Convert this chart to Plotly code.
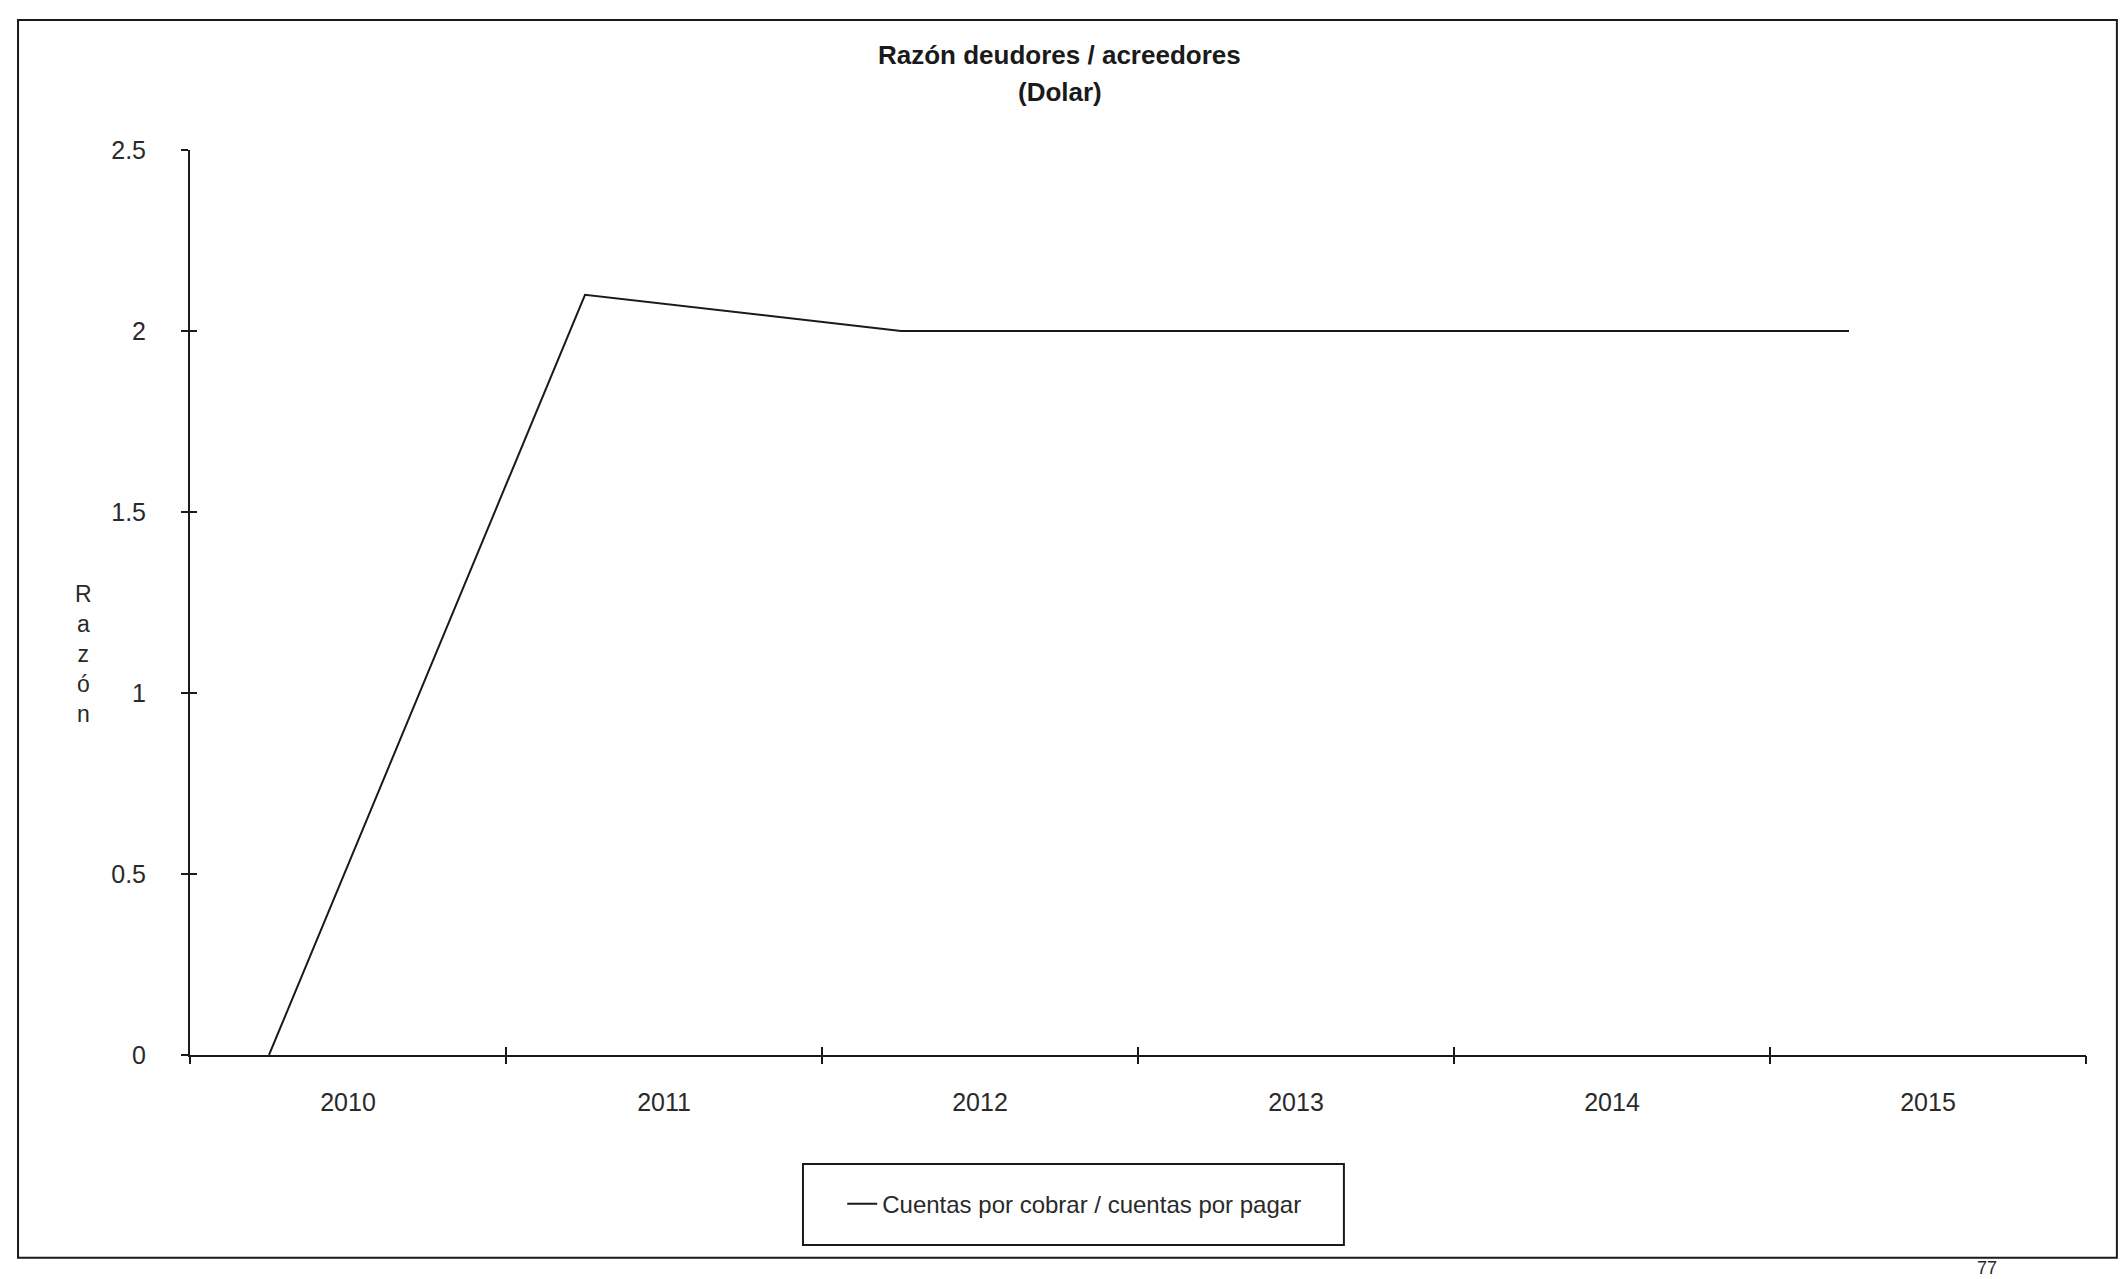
import plotly.graph_objects as go

# Ratio of receivables to payables (USD), by year
years = ["2010", "2011", "2012", "2013", "2014", "2015"]
ratio = [0.0, 2.1, 2.0, 2.0, 2.0, 2.0]
y_ticks = [0, 0.5, 1, 1.5, 2, 2.5]
y_tick_labels = ["0", "0.5", "1", "1.5", "2", "2.5"]
series_name = "Cuentas por cobrar / cuentas por pagar"

n = len(years)
centers = list(range(n))
bounds = [i - 0.5 for i in range(n + 1)]
# points sit a quarter of a category left of each category centre
x_pts = [c - 0.25 for c in centers]

FONT = "Liberation Sans, Arial, Helvetica, sans-serif"
INK = "#1a1a1a"
SOFT = "#2a2a2a"

fig = go.Figure()
fig.add_trace(go.Scatter(
    x=x_pts, y=ratio, mode="lines", name=series_name,
    line=dict(color=INK, width=2), showlegend=True,
))
# invisible helper traces so the overlaid tick axes are rendered
fig.add_trace(go.Scatter(x=[bounds[0]], y=[0], xaxis="x2", yaxis="y2",
                         mode="markers", marker=dict(opacity=0),
                         showlegend=False, hoverinfo="skip"))
fig.add_trace(go.Scatter(x=[bounds[0]], y=[0], xaxis="x3", yaxis="y2",
                         mode="markers", marker=dict(opacity=0),
                         showlegend=False, hoverinfo="skip"))

xr = [bounds[0], bounds[-1]]
yr = [0, 2.5]

fig.update_layout(
    width=2127, height=1279,
    margin=dict(l=190, r=41, t=150, b=224),
    paper_bgcolor="white", plot_bgcolor="white",
    font=dict(family=FONT, size=24, color=INK),
    xaxis=dict(range=xr, tickmode="array", tickvals=centers, ticktext=years,
               ticks="", showgrid=False, zeroline=False,
               showline=True, linecolor=INK, linewidth=2,
               ticklabelstandoff=24, tickfont=dict(size=25, color=SOFT)),
    xaxis2=dict(range=xr, overlaying="x", tickmode="array", tickvals=bounds,
                ticks="outside", ticklen=8, tickwidth=1.5, tickcolor=INK,
                showticklabels=False, showgrid=False, zeroline=False,
                showline=False),
    xaxis3=dict(range=xr, overlaying="x", tickmode="array", tickvals=bounds,
                ticks="inside", ticklen=8, tickwidth=1.5, tickcolor=INK,
                showticklabels=False, showgrid=False, zeroline=False,
                showline=False),
    yaxis=dict(range=yr, tickmode="array", tickvals=y_ticks,
               ticktext=y_tick_labels, ticks="outside", ticklen=7,
               tickwidth=1.5, tickcolor=INK, showgrid=False, zeroline=False,
               showline=True, linecolor=INK, linewidth=2,
               ticklabelstandoff=30, tickfont=dict(size=25, color=SOFT)),
    yaxis2=dict(range=yr, overlaying="y", tickmode="array", tickvals=y_ticks,
                ticks="inside", ticklen=7, tickwidth=1.5, tickcolor=INK,
                showticklabels=False, showgrid=False, zeroline=False,
                showline=False),
    legend=dict(orientation="h", x=0.344, y=-0.14, xanchor="left",
                yanchor="top", bgcolor="rgba(0,0,0,0)", borderwidth=0,
                font=dict(size=24, color=SOFT)),
    showlegend=True,
)

# page frame and legend frame
fig.add_shape(type="rect", xref="paper", yref="paper",
              x0=-0.0907, x1=1.0163, y0=-0.224, y1=1.1436,
              line=dict(color=INK, width=2), layer="below")
fig.add_shape(type="rect", xref="paper", yref="paper",
              x0=0.3233, x1=0.6086, y0=-0.21, y1=-0.1204,
              line=dict(color=INK, width=2), layer="below")

# title lines
fig.add_annotation(text="<b>Razón deudores / acreedores</b>", xref="paper",
                   yref="paper", x=0.4588, y=1.105, showarrow=False,
                   font=dict(size=26, color=INK), xanchor="center",
                   yanchor="middle")
fig.add_annotation(text="<b>(Dolar)</b>", xref="paper", yref="paper",
                   x=0.4588, y=1.064, showarrow=False,
                   font=dict(size=26, color=INK), xanchor="center",
                   yanchor="middle")

# vertical axis title, one letter per line
fig.add_annotation(text="<br>".join("Razón"), xref="paper", yref="paper",
                   x=-0.056, y=0.443, showarrow=False, align="center",
                   font=dict(size=23, color=SOFT), xanchor="center",
                   yanchor="middle")

# page number at the foot of the page
fig.add_annotation(text="77", xref="paper", yref="paper", x=0.948,
                   y=-0.2475, showarrow=False, xanchor="center",
                   yanchor="bottom", font=dict(size=18, color=SOFT),
                   borderpad=0)

fig.write_html("out.html")
